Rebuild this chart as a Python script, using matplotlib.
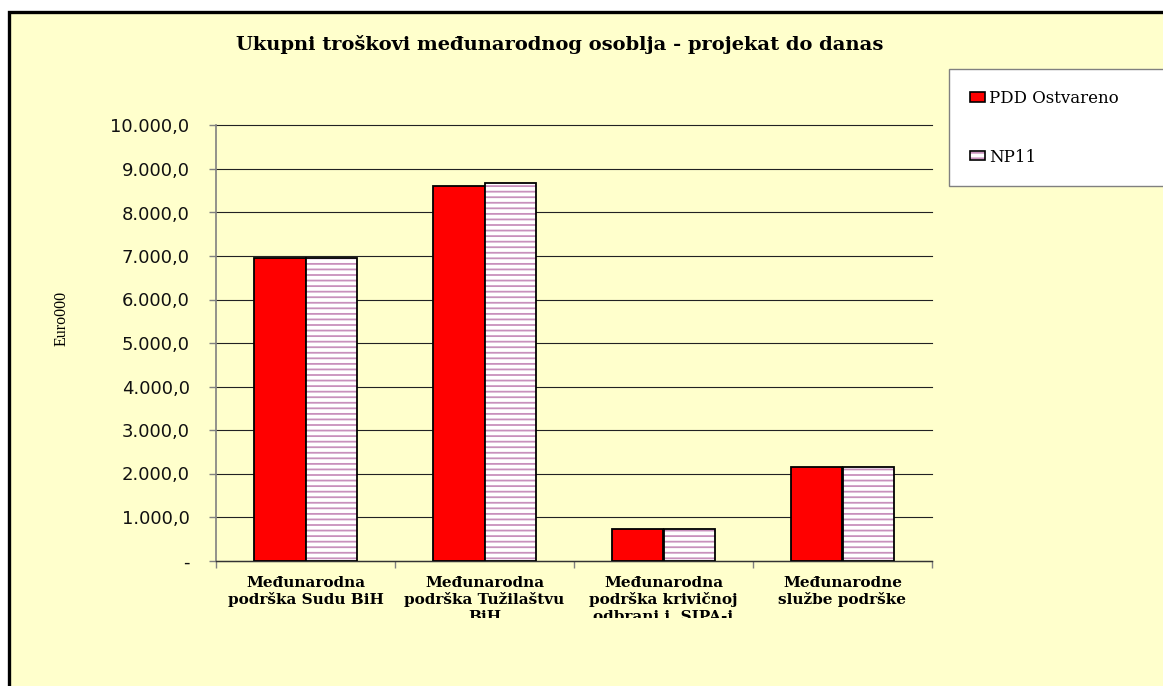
import matplotlib
matplotlib.use('Agg')
import matplotlib.pyplot as plt
import numpy as np
from matplotlib.patches import Rectangle, Patch
from matplotlib.transforms import Bbox, TransformedBbox
from matplotlib.legend_handler import HandlerTuple

# ---- data ----
categories = [
    "Međunarodna\npodrška Sudu BiH",
    "Međunarodna\npodrška Tužilaštvu\nBiH",
    "Međunarodna\npodrška krivičnoj\nodbrani i  SIPA-i",
    "Međunarodne\nslužbe podrške",
]
series_names = ["PDD Ostvareno", "NP11"]
pdd_ostvareno = [6960, 8620, 730, 2145]
np11 = [6960, 8670, 730, 2145]
y_ticks = [0, 1000, 2000, 3000, 4000, 5000, 6000, 7000, 8000, 9000, 10000]
y_tick_labels = ["-", "1.000,0", "2.000,0", "3.000,0", "4.000,0", "5.000,0",
                 "6.000,0", "7.000,0", "8.000,0", "9.000,0", "10.000,0"]
title = "Ukupni troškovi međunarodnog osoblja - projekat do danas"
y_label = "Euro000"

plt.rcParams['hatch.linewidth'] = 1.3

W, H = 1163, 686
fig = plt.figure(figsize=(W / 100, H / 100), dpi=100)
fig.patch.set_facecolor('white')

# chart area frame (light yellow with black border, cut at right/bottom)
frame = Rectangle((8.5 / W, -0.1), 1.2, (H - 11.5) / H + 0.1,
                  transform=fig.transFigure, facecolor='#FFFFCC',
                  edgecolor='black', linewidth=2.4, zorder=-10)
fig.add_artist(frame)

ax = fig.add_axes([216 / W, 1 - 560.5 / H, (932 - 216) / W, (560.5 - 125.5) / H])
ax.set_facecolor('none')

x = np.arange(len(categories))
bw = 0.285
hatch_col = '#C890BC'
hatch_pat = '---'
ax.bar(x - bw / 2, pdd_ostvareno, bw, color='#FF0000', edgecolor='black',
       linewidth=1.3, zorder=3)
ax.bar(x + bw / 2, np11, bw, color='white', edgecolor=hatch_col, hatch=hatch_pat,
       linewidth=0, zorder=3)
ax.bar(x + bw / 2, np11, bw, fill=False, edgecolor='black', linewidth=1.3, zorder=4)

# y axis
ax.set_ylim(0, 10000)
ax.set_yticks(y_ticks)
ax.set_yticklabels(y_tick_labels, fontfamily='DejaVu Sans', fontsize=13,
                   color='#111111')
ax.tick_params(axis='y', length=5, width=1, color='#808080', pad=14)
ax.yaxis.grid(True, color='#222222', linewidth=0.8)
ax.set_axisbelow(True)
for gl in ax.get_ygridlines():
    gl.set_clip_on(False)

# x axis
ax.set_xlim(-0.5, len(categories) - 0.5)
ax.set_xticks(np.arange(-0.5, len(categories), 1.0))
ax.set_xticklabels([])
ax.set_xticks(x, minor=True)
ax.set_xticklabels(categories, minor=True, fontfamily='DejaVu Serif',
                   fontweight='bold', fontsize=11, linespacing=1.22)
ax.tick_params(axis='x', which='major', length=5, width=1, color='#808080',
               direction='out')
ax.tick_params(axis='x', which='minor', length=0, pad=11)

clip = TransformedBbox(Bbox.from_extents(0, 68 / H, 1, 1), fig.transFigure)
for t in ax.get_xticklabels(minor=True):
    t.set_clip_box(clip)
    t.set_clip_on(True)

for s in ('top', 'right'):
    ax.spines[s].set_visible(False)
ax.spines['left'].set_color('#808080')
ax.spines['left'].set_linewidth(1.2)
ax.spines['bottom'].set_color('#333333')
ax.spines['bottom'].set_linewidth(1.0)

# title and y label
fig.text(560 / W, 1 - 45 / H, title, ha='center', va='center',
         fontfamily='DejaVu Serif', fontweight='bold', fontsize=14)
fig.text(62 / W, 1 - 318 / H, y_label, rotation=90, ha='center', va='center',
         fontfamily='Liberation Serif', fontsize=11.5)

# legend
h1 = Patch(facecolor='#FF0000', edgecolor='black', linewidth=1.2)
h2a = Patch(facecolor='white', edgecolor=hatch_col, hatch=hatch_pat, linewidth=0)
h2b = Patch(fill=False, edgecolor='black', linewidth=1.2)
leg = fig.legend([h1, (h2a, h2b)], series_names,
                 handler_map={tuple: HandlerTuple(ndivide=1, pad=0)},
                 loc='upper left',
                 bbox_to_anchor=(949 / W, (H - 184) / H, 260 / W, 115 / H),
                 mode='expand', borderaxespad=0, borderpad=1.25,
                 labelspacing=2.5, handlelength=0.9, handleheight=0.5,
                 handletextpad=0.25, fancybox=False, framealpha=1,
                 edgecolor='#808080', facecolor='white',
                 prop={'family': 'DejaVu Serif', 'size': 12})
leg.get_frame().set_linewidth(1.0)

fig.savefig('out.png', dpi=100)
